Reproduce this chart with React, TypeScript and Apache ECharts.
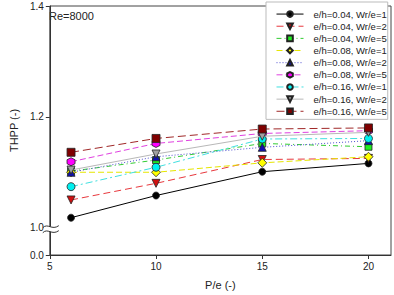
import React, { useEffect, useRef } from "react";
import * as echarts from "echarts";

// P/e values on the x axis
const pitchRatios = [6, 10, 15, 20];

// THPP for each rib configuration
const seriesNames = [
  "e/h=0.04, Wr/e=1",
  "e/h=0.04, Wr/e=2",
  "e/h=0.04, Wr/e=5",
  "e/h=0.08, Wr/e=1",
  "e/h=0.08, Wr/e=2",
  "e/h=0.08, Wr/e=5",
  "e/h=0.16, Wr/e=1",
  "e/h=0.16, Wr/e=2",
  "e/h=0.16, Wr/e=5",
];
const eh004wr1 = [1.018, 1.058, 1.101, 1.116];
const eh004wr2 = [1.05, 1.08, 1.123, 1.125];
const eh004wr5 = [1.102, 1.122, 1.152, 1.146];
const eh008wr1 = [1.1, 1.1, 1.117, 1.128];
const eh008wr2 = [1.1, 1.128, 1.145, 1.157];
const eh008wr5 = [1.119, 1.152, 1.17, 1.175];
const eh016wr1 = [1.074, 1.109, 1.16, 1.161];
const eh016wr2 = [1.104, 1.133, 1.165, 1.172];
const eh016wr5 = [1.136, 1.161, 1.178, 1.18];
const allValues = [
  eh004wr1, eh004wr2, eh004wr5,
  eh008wr1, eh008wr2, eh008wr5,
  eh016wr1, eh016wr2, eh016wr5,
];

// tick labels
const xTicks = [5, 10, 15, 20];
const yBreakLabel = "0.0";
const yTicks = [1.0, 1.2, 1.4];

const hexagon = "path://M50,0 L93,25 L93,75 L50,100 L7,75 L7,25 Z";

const styles = [
  { line: "#000000", fill: "#000000", dash: "solid", symbol: "circle", size: 7, rot: 0 },
  { line: "#e8383d", fill: "#d01010", dash: [7, 4], symbol: "triangle", size: 8, rot: 180 },
  { line: "#33cc33", fill: "#22ee22", dash: [5, 3, 1, 3], symbol: "rect", size: 7, rot: 0 },
  { line: "#e6e600", fill: "#ffff00", dash: [6, 3], symbol: "diamond", size: 9, rot: 0 },
  { line: "#5050d0", fill: "#1010b0", dash: [1, 2], symbol: "triangle", size: 8, rot: 0 },
  { line: "#e040e0", fill: "#ff00ff", dash: [6, 3], symbol: hexagon, size: 8, rot: 0 },
  { line: "#40e0e0", fill: "#00f0f0", dash: [7, 3, 2, 3], symbol: "circle", size: 8, rot: 0 },
  { line: "#b8b8b8", fill: "#a0a0a0", dash: "solid", symbol: "triangle", size: 8, rot: 180 },
  { line: "#a02828", fill: "#800000", dash: [8, 4], symbol: "rect", size: 8, rot: 0 },
];

const Y_MIN = 0.9507;
const Y_MAX = 1.4;

export default function App() {
  const ref = useRef<HTMLDivElement>(null);

  useEffect(() => {
    if (!ref.current) return;
    const chart = echarts.init(ref.current, undefined, { renderer: "svg" });

    const series = seriesNames.map((name, i) => {
      const s = styles[i];
      return {
        name,
        type: "line",
        data: pitchRatios.map((x, j) => [x, allValues[i][j]]),
        symbol: s.symbol,
        symbolSize: s.size,
        symbolRotate: s.rot,
        lineStyle: { color: s.line, width: 1, type: s.dash },
        itemStyle: { color: s.fill, borderColor: "#222", borderWidth: 0.8 },
        z: 2 + i,
      };
    });

    chart.setOption({
      animation: false,
      textStyle: { fontFamily: "Liberation Sans, Arial, sans-serif" },
      grid: {
        left: 42,
        right: 3,
        top: 6,
        bottom: 38,
        show: true,
        borderColor: "#444",
        borderWidth: 1,
        backgroundColor: "transparent",
      },
      legend: {
        orient: "vertical",
        left: 266,
        top: 2,
        padding: [6, 1, 2, 10],
        itemWidth: 27,
        itemHeight: 7,
        itemGap: 0,
        borderColor: "#bbb",
        borderWidth: 1,
        backgroundColor: "#fff",
        lineStyle: { width: 1 },
        textStyle: {
          fontSize: 9.5,
          color: "#222",
          lineHeight: 12.15,
          padding: [0, 0, 0, 5],
        },
        data: seriesNames,
      },
      xAxis: {
        type: "value",
        min: 5,
        max: 21.06,
        name: "P/e (-)",
        nameLocation: "middle",
        nameGap: 24,
        nameTextStyle: { fontSize: 11, color: "#222" },
        axisLine: { lineStyle: { color: "#333", width: 1 } },
        axisTick: { show: true, length: 4, customValues: xTicks, lineStyle: { color: "#333" } },
        axisLabel: { customValues: xTicks, fontSize: 10, color: "#222", margin: 6 },
        splitLine: { show: false },
      },
      yAxis: {
        type: "value",
        min: Y_MIN,
        max: Y_MAX,
        name: "THPP (-)",
        nameLocation: "middle",
        nameGap: 29,
        nameTextStyle: { fontSize: 11, color: "#222" },
        axisLine: { lineStyle: { color: "#333", width: 1 } },
        axisTick: {
          show: true,
          length: 4,
          customValues: [Y_MIN, 1.2, 1.4],
          lineStyle: { color: "#333" },
        },
        axisLabel: {
          customValues: [Y_MIN, ...yTicks],
          fontSize: 10,
          color: "#222",
          margin: 6,
          formatter: (v: number) => (v < 0.99 ? yBreakLabel : v.toFixed(1)),
        },
        splitLine: { show: false },
      },
      series,
    });

    // axis break marker at 1.0 and the Reynolds-number note
    const axisX = chart.convertToPixel({ xAxisIndex: 0 }, 5) as number;
    const breakY = (chart.convertToPixel({ yAxisIndex: 0 }, 1.0) as number) + 1;
    const wave = (y: number) => ({
      type: "bezierCurve",
      shape: {
        x1: axisX - 7,
        y1: y + 1,
        cpx1: axisX - 2,
        cpy1: y - 4,
        cpx2: axisX + 2,
        cpy2: y + 4,
        x2: axisX + 9,
        y2: y - 1,
      },
      style: { stroke: "#333", lineWidth: 1, fill: null },
      z: 100,
    });
    chart.setOption({
      graphic: [
        {
          type: "rect",
          shape: { x: axisX - 2, y: breakY - 2, width: 4, height: 5 },
          style: { fill: "#fff" },
          z: 99,
        },
        wave(breakY - 2),
        wave(breakY + 3),
        {
          type: "text",
          left: 49,
          top: 10,
          style: {
            text: "Re=8000",
            fontSize: 11,
            fill: "#222",
            fontFamily: "Liberation Sans, Arial, sans-serif",
          },
        },
      ],
    });

    return () => chart.dispose();
  }, []);

  return (
    <div
      ref={ref}
      style={{ position: "fixed", left: 0, top: 0, width: 394, height: 295, background: "#fff" }}
    />
  );
}
